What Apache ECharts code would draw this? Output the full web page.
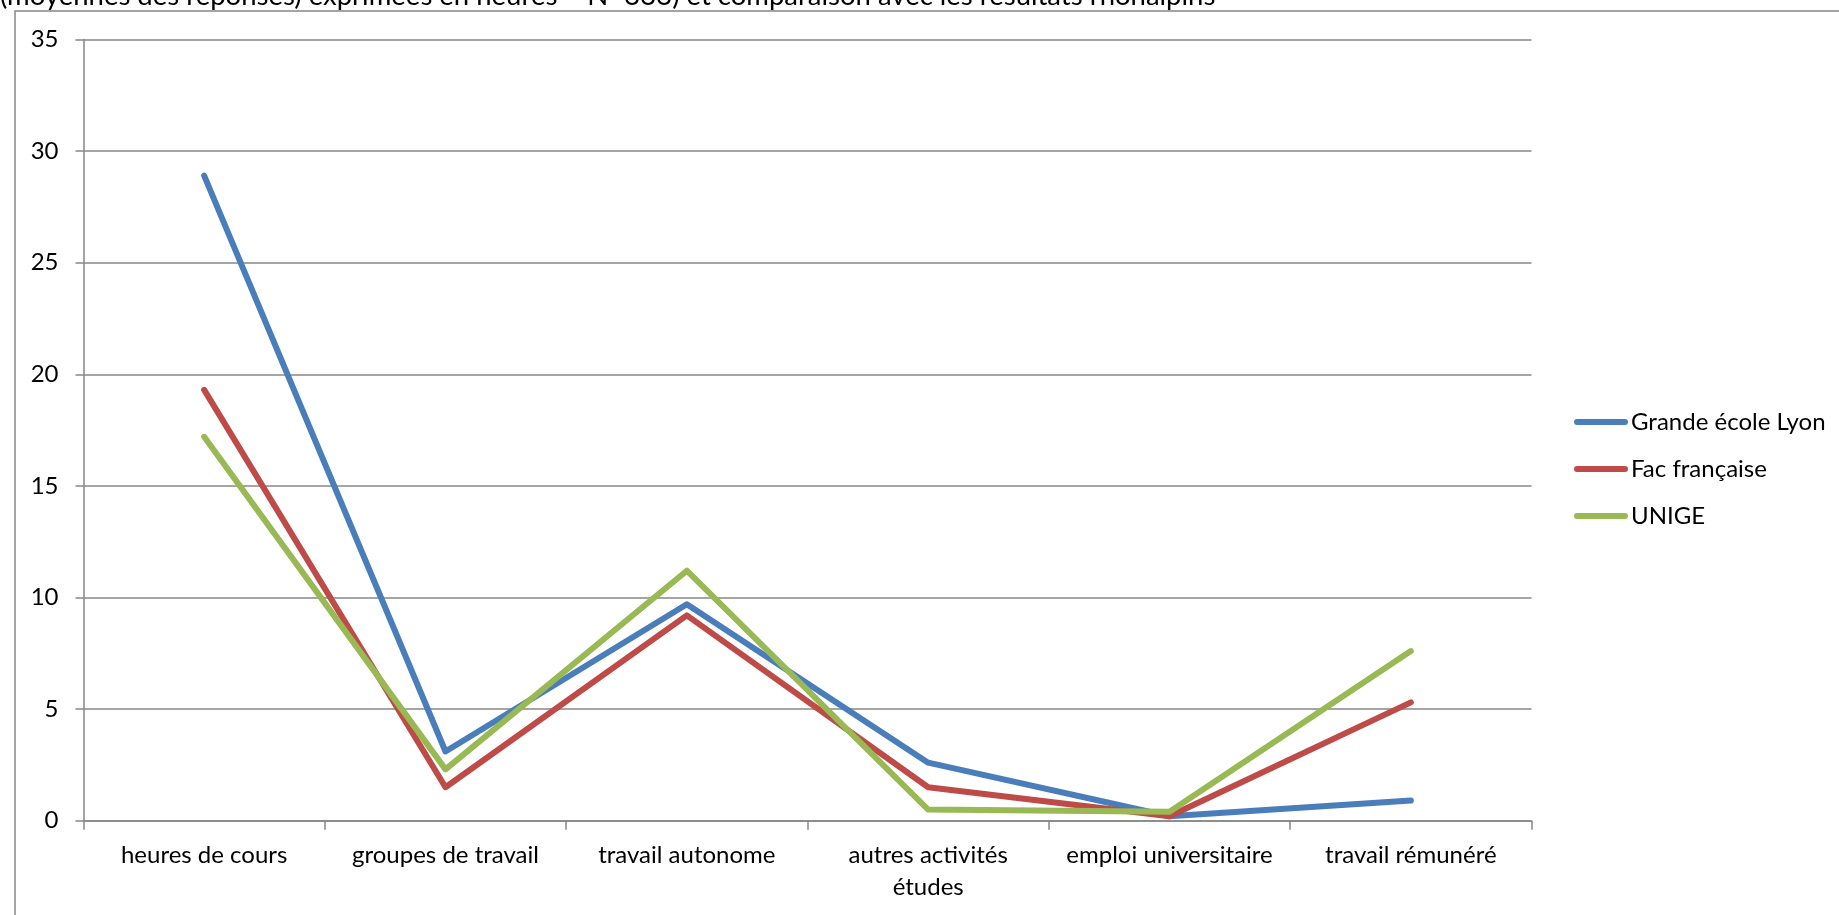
<!DOCTYPE html>
<html>
<head>
<meta charset="utf-8">
<script src="https://cdn.jsdelivr.net/npm/echarts@6/dist/echarts.min.js"></script>
<style>
  html, body { margin: 0; padding: 0; background: #ffffff; overflow: hidden; }
  #chart { width: 1839px; height: 915px; }
</style>
</head>
<body>
<div id="chart"></div>
<script>
// Weekly hours per activity (means of the answers)
const categories = ['heures de cours', 'groupes de travail', 'travail autonome', 'autres activités\nétudes', 'emploi universitaire', 'travail rémunéré'];
const seriesNames = ['Grande école Lyon', 'Fac française', 'UNIGE'];
const grandeEcoleLyon = [28.9, 3.1, 9.7, 2.6, 0.2, 0.9];
const facFrancaise = [19.3, 1.5, 9.2, 1.5, 0.2, 5.3];
const unige = [17.2, 2.3, 11.2, 0.5, 0.4, 7.6];
const yTicks = { min: 0, max: 35, interval: 5 };
const headingText = '(moyennes des réponses) exprimées en heures – N=333) et comparaison avec les résultats rhônalpins';

const FONT = 'Lato, "Open Sans", sans-serif';
const GRID_GREY = '#878787';
const colors = ['#4a7ebb', '#be4b48', '#98b954'];
const values = [grandeEcoleLyon, facFrancaise, unige];

const chart = echarts.init(document.getElementById('chart'), null, { renderer: 'canvas' });

chart.setOption({
  animation: false,
  backgroundColor: '#ffffff',
  color: colors,
  textStyle: { fontFamily: FONT },
  graphic: [
    {
      type: 'rect',
      shape: { x: 15, y: 11, width: 3000, height: 3000 },
      style: { fill: 'none', stroke: GRID_GREY, lineWidth: 1.5 },
      silent: true
    },
    {
      type: 'text',
      x: 0,
      y: -3.5,
      style: {
        text: headingText,
        font: '27.5px ' + FONT,
        fill: '#000000',
        verticalAlign: 'middle',
        align: 'left'
      },
      silent: true
    }
  ],
  grid: {
    left: 83.5,
    right: 1839 - 1531.5,
    top: 39.5,
    bottom: 915 - 820.7,
    containLabel: false
  },
  legend: {
    orient: 'vertical',
    left: 1569,
    top: 402,
    itemWidth: 54,
    itemHeight: 14,
    itemGap: 17,
    data: seriesNames.map((name, i) => ({
      name,
      icon: 'path://M3,0 L51,0 A3,3 0 0 1 51,6 L3,6 A3,3 0 0 1 3,0 Z',
      itemStyle: { color: colors[i] }
    })),
    textStyle: { fontFamily: FONT, fontSize: 24, color: '#000000', lineHeight: 30, padding: [0, 0, 0, -2] }
  },
  xAxis: {
    type: 'category',
    data: categories,
    boundaryGap: true,
    axisLine: { show: true, lineStyle: { color: GRID_GREY, width: 1.5 } },
    axisTick: { show: true, length: 9, interval: 0, alignWithLabel: false, lineStyle: { color: GRID_GREY, width: 1.5 } },
    axisLabel: { interval: 0, margin: 19, fontFamily: FONT, fontSize: 24, lineHeight: 32, color: '#000000', align: 'center' },
    splitLine: { show: false }
  },
  yAxis: {
    type: 'value',
    min: yTicks.min,
    max: yTicks.max,
    interval: yTicks.interval,
    axisLine: { show: true, lineStyle: { color: GRID_GREY, width: 1.5 } },
    axisTick: { show: true, length: 8, lineStyle: { color: GRID_GREY, width: 1.5 } },
    axisLabel: { margin: 25, fontFamily: FONT, fontSize: 24, color: '#000000' },
    splitLine: { show: true, lineStyle: { color: GRID_GREY, width: 1.5 } }
  },
  series: seriesNames.map((name, i) => ({
    name,
    type: 'line',
    data: values[i],
    symbol: 'none',
    showSymbol: false,
    lineStyle: { width: 6, color: colors[i], cap: 'round', join: 'round' },
    itemStyle: { color: colors[i] },
    z: 3 + i
  }))
});
</script>
</body>
</html>
